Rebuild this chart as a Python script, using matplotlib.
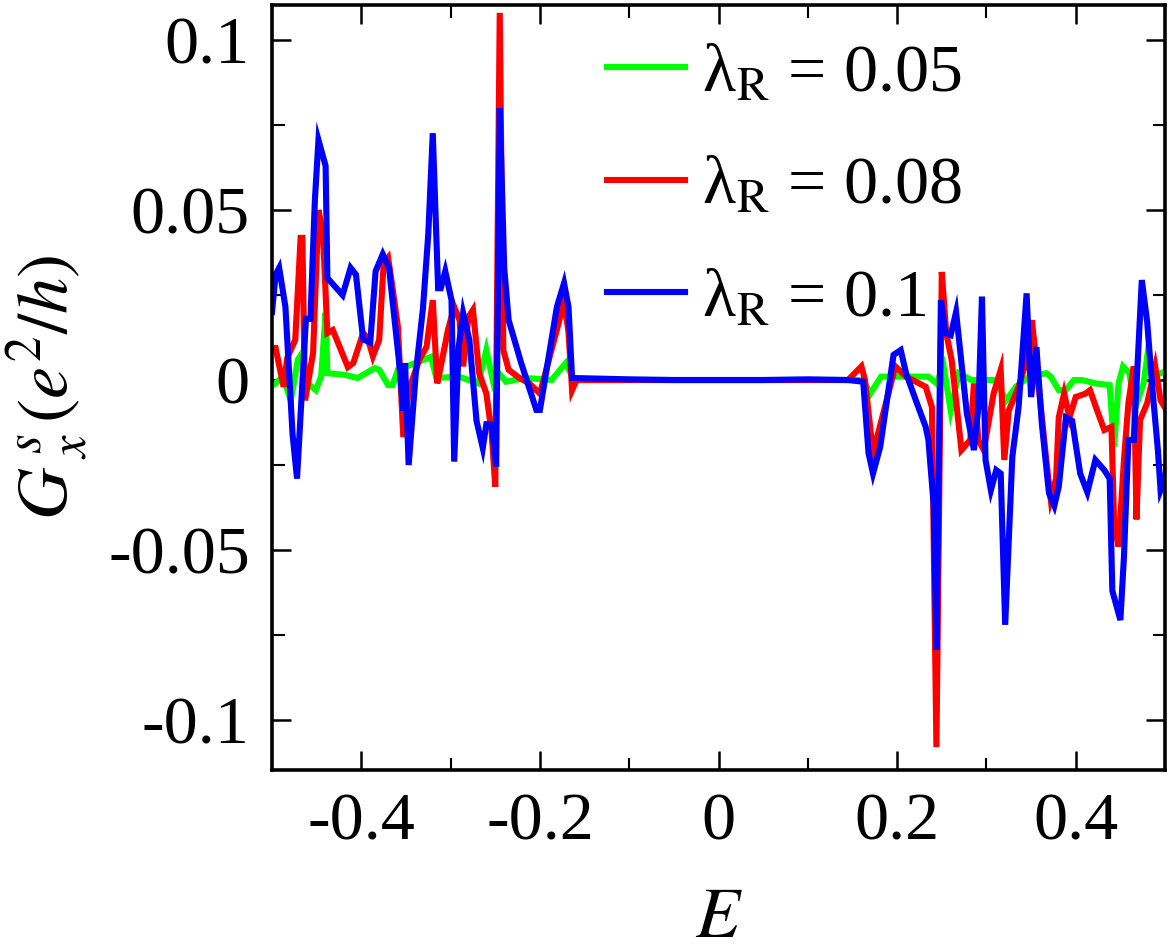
import matplotlib
matplotlib.use("Agg")
import matplotlib.pyplot as plt
from matplotlib.ticker import MultipleLocator, FixedLocator, FixedFormatter

plt.rcParams['font.family'] = ['Liberation Serif', 'DejaVu Serif']
plt.rcParams['mathtext.fontset'] = 'stix'
plt.rcParams['axes.unicode_minus'] = False

# ---------------- data ----------------
E_005 = [-0.502, -0.496, -0.488, -0.479, -0.471, -0.466, -0.460, -0.451, -0.445, -0.440,
         -0.438, -0.418, -0.404, -0.385, -0.380, -0.370, -0.365, -0.359, -0.322, -0.316,
         -0.291, -0.269, -0.260, -0.252, -0.246, -0.238, -0.216, -0.187, -0.171, -0.162,
         -0.10, -0.05, 0.0, 0.05, 0.10, 0.145,
         0.162, 0.170, 0.182, 0.235, 0.244, 0.252, 0.260, 0.269, 0.283, 0.310,
         0.322, 0.333, 0.348, 0.367, 0.372, 0.381, 0.389, 0.398, 0.407, 0.422,
         0.438, 0.443, 0.448, 0.453, 0.460, 0.467, 0.476, 0.480, 0.486, 0.495, 0.505]
G_005 = [-0.002, -0.001, 0.001, -0.006, 0.006, 0.008, -0.001, -0.003, 0.001, 0.0197,
         0.002, 0.0015, 0.0006, 0.0035, 0.003, -0.0015, -0.0015, 0.003, 0.0068, 0.0006,
         0.001, -0.001, 0.0088, -0.001, 0.002, -0.0005, 0.0006, 0.0, 0.005, 0.0,
         0.0, 0.0, 0.0, 0.0, 0.0, 0.0,
         0.0, -0.004, 0.001, 0.001, -0.001, 0.004, -0.009, 0.002, 0.0, 0.0,
         -0.006, -0.002, 0.001, 0.002, 0.001, -0.003, -0.003, 0.0, 0.0, -0.001,
         -0.0015, -0.0197, -0.001, 0.004, 0.002, -0.008, -0.001, 0.0068, 0.001, 0.002, 0.003]

E_008 = [-0.502, -0.496, -0.487, -0.483, -0.474, -0.468, -0.466, -0.463, -0.454, -0.448,
         -0.443, -0.438, -0.432, -0.415, -0.409, -0.398, -0.393, -0.387, -0.380, -0.375,
         -0.370, -0.365, -0.359, -0.353, -0.347, -0.335, -0.327, -0.320, -0.315, -0.311,
         -0.303, -0.296, -0.290, -0.286, -0.280, -0.275, -0.268, -0.260, -0.254, -0.250,
         -0.245, -0.241, -0.235, -0.223, -0.212, -0.200, -0.179, -0.173, -0.168, -0.164,
         -0.159, -0.10, -0.05, 0.0, 0.05, 0.10, 0.145,
         0.160, 0.164, 0.173, 0.198, 0.210, 0.232, 0.239, 0.244, 0.250, 0.255,
         0.261, 0.272, 0.275, 0.282, 0.286, 0.291, 0.297, 0.308, 0.316, 0.320,
         0.325, 0.336, 0.344, 0.351, 0.357, 0.367, 0.372, 0.378, 0.381, 0.387,
         0.393, 0.400, 0.411, 0.416, 0.424, 0.432, 0.440, 0.443, 0.448, 0.454,
         0.459, 0.465, 0.468, 0.472, 0.480, 0.489, 0.495, 0.502]
G_008 = [0.0094, 0.0094, -0.002, 0.0065, 0.0118, 0.0418, 0.0418, -0.006, 0.008, 0.050,
         0.043, 0.0138, 0.0147, 0.0038, 0.005, 0.0138, 0.0124, 0.007, 0.0118, 0.0344,
         0.036, 0.027, 0.0156, -0.0168, -0.003, 0.006, 0.0097, 0.0235, -0.001, 0.004,
         0.0147, 0.0215, 0.0176, 0.004, 0.0185, 0.0206, 0.002, -0.004, -0.0157, -0.0314,
         0.108, 0.0088, 0.003, 0.0006, -0.001, -0.004, 0.0168, 0.0235, 0.014, -0.003,
         0.0, 0.0, 0.0, 0.0, 0.0, 0.0, 0.0,
         0.004, 0.0, -0.0215, 0.004, 0.001, -0.002, -0.008, -0.108, 0.0318, 0.0138,
         0.006, -0.0206, -0.0197, -0.0176, -0.001, -0.0176, -0.0206, -0.004, 0.003, -0.0235,
         -0.009, -0.002, 0.005, 0.0176, 0.002, -0.0235, -0.035, -0.029, -0.011, -0.004,
         -0.011, -0.005, -0.004, -0.003, -0.009, -0.0147, -0.0138, -0.042, -0.049, -0.0235,
         -0.0068, 0.004, -0.041, -0.0118, -0.0068, 0.004, -0.006, -0.009]

E_010 = [-0.500, -0.496, -0.492, -0.485, -0.477, -0.472, -0.462, -0.457, -0.452, -0.448,
         -0.440, -0.438, -0.421, -0.412, -0.406, -0.398, -0.390, -0.384, -0.376, -0.369,
         -0.358, -0.353, -0.351, -0.347, -0.339, -0.331, -0.325, -0.320, -0.314, -0.311,
         -0.306, -0.299, -0.296, -0.291, -0.286, -0.279, -0.271, -0.264, -0.260, -0.254,
         -0.249, -0.245, -0.240, -0.235, -0.221, -0.204, -0.200, -0.181, -0.173, -0.168,
         -0.164, -0.10, -0.05, 0.0, 0.05, 0.10, 0.145,
         0.162, 0.168, 0.173, 0.181, 0.196, 0.204, 0.210, 0.221, 0.232, 0.235,
         0.241, 0.244, 0.249, 0.254, 0.260, 0.266, 0.278, 0.286, 0.291, 0.295,
         0.299, 0.305, 0.311, 0.316, 0.321, 0.329, 0.336, 0.345, 0.350, 0.356,
         0.362, 0.370, 0.376, 0.381, 0.389, 0.396, 0.405, 0.413, 0.422, 0.432,
         0.438, 0.441, 0.450, 0.454, 0.459, 0.465, 0.474, 0.480, 0.486, 0.492,
         0.495, 0.500, 0.505]
G_010 = [0.020, 0.031, 0.033, 0.0215, -0.016, -0.029, 0.018, 0.018, 0.053, 0.0706,
         0.063, 0.030, 0.025, 0.033, 0.031, 0.012, 0.011, 0.032, 0.037, 0.033,
         0.006, -0.009, 0.005, -0.025, 0.002, 0.021, 0.043, 0.0726, 0.027, 0.027,
         0.032, 0.0235, -0.024, 0.0097, 0.0197, 0.0118, -0.012, -0.020, -0.013, -0.013,
         -0.0255, 0.080, 0.033, 0.0176, 0.005, -0.0088, -0.0088, 0.0215, 0.0285, 0.0215,
         0.0006, 0.0002, 0.0, 0.0, 0.0, 0.0002, 0.0,
         -0.0005, -0.0215, -0.0275, -0.0197, 0.0074, 0.0088, 0.002, -0.006, -0.0138, -0.0176,
         -0.037, -0.0794, 0.0235, 0.0138, 0.0132, 0.020, -0.0097, -0.0206, -0.008, 0.0245,
         -0.0235, -0.0324, -0.0265, -0.0275, -0.072, -0.0226, -0.008, 0.0255, -0.005, 0.0097,
         -0.0127, -0.0333, -0.037, -0.0314, -0.011, -0.012, -0.0275, -0.033, -0.0235, -0.0265,
         -0.029, -0.062, -0.0706, -0.052, -0.0176, -0.0176, 0.0294, 0.0171, -0.003, -0.0206,
         -0.0324, -0.029, -0.0186]

labels = ['λ$_{\\mathrm{R}}$ = 0.05', 'λ$_{\\mathrm{R}}$ = 0.08', 'λ$_{\\mathrm{R}}$ = 0.1']
colors = ['#00ff00', '#ff0000', '#0000ff']

xticks = [-0.4, -0.2, 0.0, 0.2, 0.4]
xticklabels = ['-0.4', '-0.2', '0', '0.2', '0.4']
yticks = [-0.1, -0.05, 0.0, 0.05, 0.1]
yticklabels = ['-0.1', '-0.05', '0', '0.05', '0.1']

# ---------------- figure ----------------
fig = plt.figure(figsize=(11.71, 9.5), dpi=100)
ax = fig.add_axes([0.2323, 0.1895, 0.9949 - 0.2323, 0.9947 - 0.1895])

for E, G, lab, c in zip([E_005, E_008, E_010], [G_005, G_008, G_010], labels, colors):
    ax.plot(E, G, color=c, lw=4.4, label=lab, solid_joinstyle='miter')

ax.set_xlim(-0.5, 0.5)
ax.set_ylim(-0.1147, 0.1103)

ax.xaxis.set_major_locator(FixedLocator(xticks))
ax.xaxis.set_major_formatter(FixedFormatter(xticklabels))
ax.xaxis.set_minor_locator(MultipleLocator(0.1))
ax.yaxis.set_major_locator(FixedLocator(yticks))
ax.yaxis.set_major_formatter(FixedFormatter(yticklabels))
ax.yaxis.set_minor_locator(MultipleLocator(0.025))

ax.tick_params(which='both', direction='in', top=True, right=True, labelsize=49)
ax.tick_params(which='major', length=14, width=1.8)
ax.tick_params(which='minor', length=9, width=1.5)
ax.tick_params(axis='x', which='major', pad=16)
ax.tick_params(axis='y', which='major', pad=16)
for s in ax.spines.values():
    s.set_linewidth(2.6)

ax.set_xlabel('$E$', fontsize=52, labelpad=24)
ax.set_ylabel('$G^{\\,s}_{\\;x}\\,(e^{2}/h)$', fontsize=52, labelpad=12)

leg = ax.legend(loc='upper left', bbox_to_anchor=(0.36, 0.968), frameon=False,
                fontsize=49, handlelength=1.15, handletextpad=0.25,
                labelspacing=0.75, borderpad=0.2, borderaxespad=0.0)

fig.savefig('out.png', dpi=100)
